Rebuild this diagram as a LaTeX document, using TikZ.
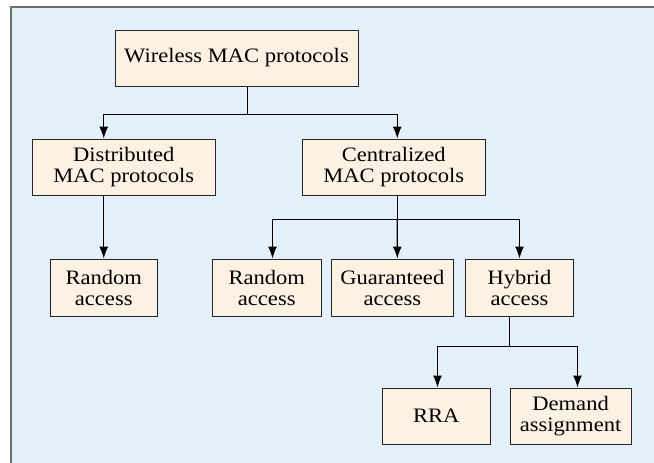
\documentclass[tikz,border=0pt]{standalone}
\usepackage{fontspec}
\setmainfont{Liberation Serif}
\newfontfamily\boxfont[FakeStretch=1.1]{Liberation Serif}
\usetikzlibrary{arrows.meta}
\definecolor{panelblue}{HTML}{E3F0F9}
\definecolor{boxfill}{HTML}{FCF1E3}
\definecolor{framegray}{HTML}{6E6E6E}
\begin{document}
\begin{tikzpicture}[x=1pt,y=-1pt,
  box/.style={draw=black!85,line width=0.9pt,fill=boxfill,align=center,
    inner sep=0pt,font=\boxfont\fontsize{20.5pt}{21pt}\selectfont},
  link/.style={line width=1.3pt,black},
  arr/.style={link,-{Latex[length=12pt,width=9pt]}}]
  \useasboundingbox (0,0) rectangle (654,463);
  % panel with frame on top and left
  \fill[panelblue] (11,7) rectangle (654,463);
  \draw[framegray,line width=1.4pt] (11,463) -- (11,7) -- (654,7);

  % nodes
  \node[box,minimum width=243pt,minimum height=56pt] (W) at (236.5,58) {Wireless MAC protocols};
  \node[box,minimum width=182.5pt,minimum height=56pt] (D) at (123.75,167) {Distributed\\MAC protocols};
  \node[box,minimum width=182.5pt,minimum height=56pt] (C) at (393.75,167) {Centralized\\MAC protocols};
  \node[box,minimum width=107.5pt,minimum height=57pt] (R1) at (103.75,287.5) {Random\\access};
  \node[box,minimum width=108.5pt,minimum height=57pt] (R2) at (266.75,287.5) {Random\\access};
  \node[box,minimum width=122pt,minimum height=57pt] (G) at (392.3,287.5) {Guaranteed\\access};
  \node[box,minimum width=107.5pt,minimum height=57pt] (H) at (519.5,287.5) {Hybrid\\access};
  \node[box,minimum width=107.5pt,minimum height=56pt] (RRA) at (436.25,416) {RRA};
  \node[box,minimum width=121pt,minimum height=56pt] (DA) at (570.6,416) {Demand\\assignment};

  % connectors
  \draw[link] ([xshift=11pt]W.south) -- ++(0,28) coordinate (j1);
  \draw[arr] (j1) -| ([xshift=-20pt]D.north);
  \draw[arr] (j1) -| ([xshift=3.5pt]C.north);
  \draw[arr] ([xshift=-20pt]D.south) -- (R1.north);

  \draw[link] ([xshift=3.5pt]C.south) -- ++(0,24) coordinate (j2);
  \draw[arr] (j2) -| ([xshift=5.75pt]R2.north);
  \draw[arr] (j2) -- ([xshift=5pt]G.north);
  \draw[arr] (j2) -| (H.north);

  \draw[link] ([xshift=-10pt]H.south) -- ++(0,30) coordinate (j3);
  \draw[arr] (j3) -| ([xshift=1.25pt]RRA.north);
  \draw[arr] (j3) -| ([xshift=6.9pt]DA.north);
\end{tikzpicture}
\end{document}
